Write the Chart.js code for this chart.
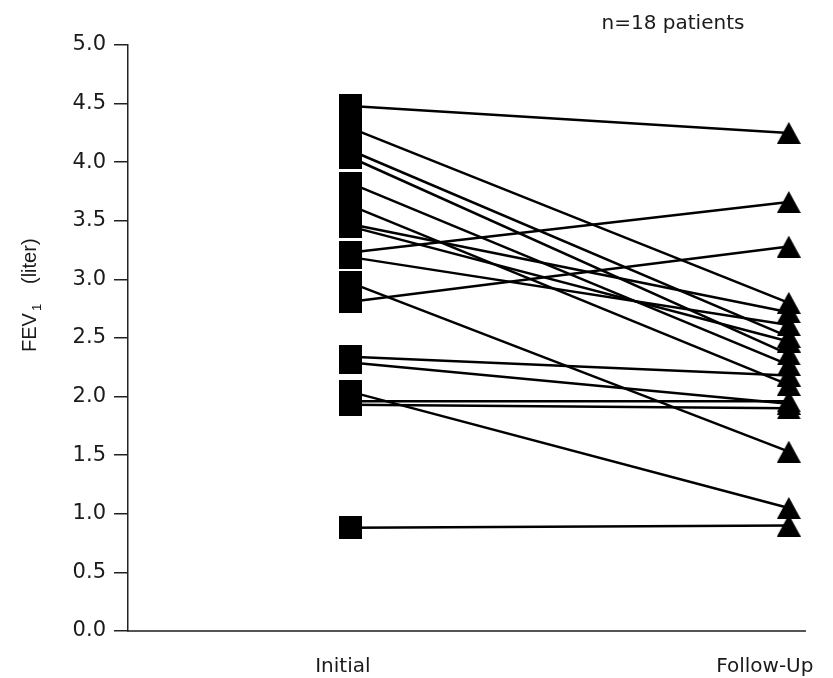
<!DOCTYPE html>
<html>
<head>
<meta charset="utf-8">
<script src="https://cdn.jsdelivr.net/npm/chart.js@4.4.1/dist/chart.umd.min.js"></script>
<style>
  body { margin: 0; background: #fff; }
  canvas { display: block; }
</style>
</head>
<body>
<canvas id="chart" width="833" height="678"></canvas>
<script>
// paired FEV1 readings per patient (liter)
const categories = ['Initial', 'Follow-Up'];
const initialFev1 = [4.48, 4.29, 4.10, 4.04, 3.82, 3.63, 3.47, 3.45, 3.23, 3.19, 2.97, 2.81, 2.34, 2.29, 2.04, 1.96, 1.93, 0.88];
const followUpFev1 = [4.25, 2.80, 2.51, 2.36, 2.27, 2.10, 2.72, 2.47, 3.66, 2.61, 1.53, 3.28, 2.18, 1.94, 1.05, 1.96, 1.90, 0.90];
const yTickValues = [0, 0.5, 1, 1.5, 2, 2.5, 3, 3.5, 4, 4.5, 5];
const note = 'n=18 patients';

const FONT = '"DejaVu Sans", sans-serif';
const TITLE_FONT = '"Liberation Sans", Arial, sans-serif';
const TEXT = '#1a1a1a';

function squareMarker(size) {
    const c = document.createElement('canvas');
    c.width = size; c.height = size;
    const g = c.getContext('2d');
    g.fillStyle = '#000';
    g.fillRect(0, 0, size, size);
    return c;
}

function triangleMarker(w, h) {
    const c = document.createElement('canvas');
    c.width = w; c.height = h;
    const g = c.getContext('2d');
    g.fillStyle = '#000';
    g.beginPath();
    g.moveTo(w / 2, 0);
    g.lineTo(w, h);
    g.lineTo(0, h);
    g.closePath();
    g.fill();
    return c;
}

const square = squareMarker(23);
const triangle = triangleMarker(24, 22);

const datasets = initialFev1.map((v, i) => ({
    data: [{ x: 0, y: v }, { x: 1, y: followUpFev1[i] }],
    borderColor: '#000',
    borderWidth: 2.5,
    pointStyle: [square, triangle],
    pointRadius: 12,
    pointBackgroundColor: '#000',
    pointBorderWidth: 0,
    clip: false
}));

// category labels + note + axis title drawn by hand (subscript, offsets)
const labelShift = [-8, -24];
const textPlugin = {
    id: 'textPlugin',
    afterDraw(chart) {
        const { ctx, scales: { x } } = chart;
        ctx.save();
        ctx.fillStyle = TEXT;
        ctx.textBaseline = 'middle';
        ctx.textAlign = 'center';
        ctx.font = '20px ' + FONT;
        categories.forEach((c, i) => {
            ctx.fillText(c, x.getPixelForValue(i) + labelShift[i], 667);
        });
        ctx.font = '20px ' + FONT;
        ctx.fillText(note, 673, 24);

        // y axis title: FEV1 (liter), rotated
        ctx.translate(36, 352);
        ctx.rotate(-Math.PI / 2);
        ctx.textAlign = 'left';
        ctx.textBaseline = 'alphabetic';
        ctx.font = '20px ' + TITLE_FONT;
        ctx.fillText('FEV', 0, 0);
        const wa = ctx.measureText('FEV').width;
        ctx.font = '13px ' + TITLE_FONT;
        ctx.fillText('1', wa + 2, 5);
        ctx.font = '20px ' + TITLE_FONT;
        ctx.fillText('(liter)', 68, 0);
        ctx.restore();
    }
};

new Chart(document.getElementById('chart'), {
    type: 'line',
    data: { datasets: datasets },
    options: {
        responsive: false,
        animation: false,
        layout: { padding: { top: 45, right: 28, left: 0, bottom: 0 } },
        plugins: {
            legend: { display: false },
            tooltip: { enabled: false }
        },
        scales: {
            x: {
                type: 'linear',
                min: -0.509,
                max: 1.037,
                ticks: { display: false },
                grid: { display: false },
                border: { display: true, color: '#555', width: 2 },
                afterFit: s => { s.height = 47; }
            },
            y: {
                min: 0,
                max: 5,
                afterBuildTicks: s => { s.ticks = yTickValues.map(v => ({ value: v })); },
                ticks: {
                    callback: v => Number(v).toFixed(1),
                    font: { family: FONT, size: 21 },
                    color: TEXT,
                    padding: 8
                },
                grid: {
                    drawOnChartArea: false,
                    drawTicks: true,
                    tickLength: 14,
                    color: '#222',
                    lineWidth: 1.5
                },
                border: { display: true, color: '#222', width: 1.5 },
                afterFit: s => { s.width = 128; }
            }
        }
    },
    plugins: [textPlugin]
});
</script>
</body>
</html>
